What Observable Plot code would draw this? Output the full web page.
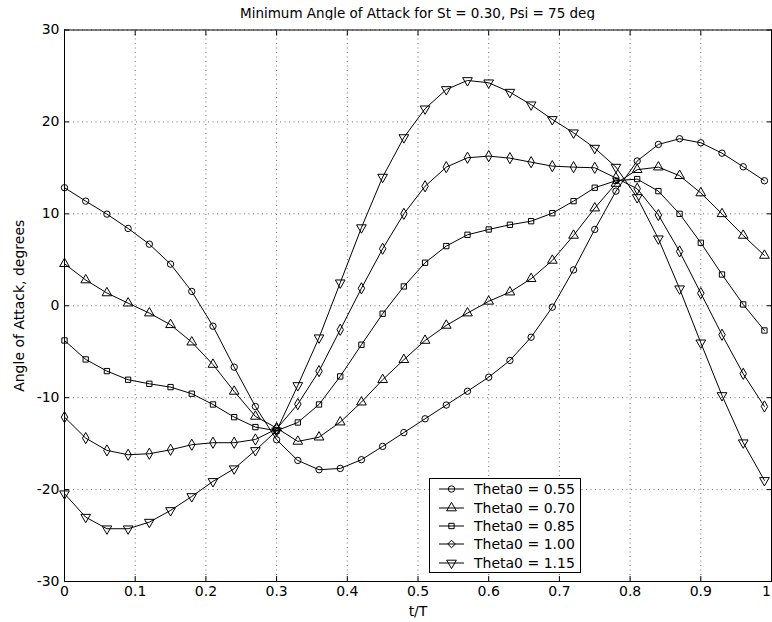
<!DOCTYPE html>
<html>
<head>
<meta charset="utf-8">
<script src="https://cdn.jsdelivr.net/npm/d3@7"></script>
<script src="https://cdn.jsdelivr.net/npm/@observablehq/plot@0.6"></script>
<style>
html, body { margin: 0; padding: 0; background: #fff; overflow: hidden; }
#wrap { position: relative; width: 772px; height: 622px; font-family: "DejaVu Sans", "Liberation Sans", Arial, sans-serif; color: #000; }
#title { position: absolute; left: 64px; width: 707px; top: 5px; line-height: 16px; text-align: center; font-size: 13.5px; }
#chart { position: absolute; left: 0; top: 20px; }
#legend { position: absolute; left: 429px; top: 478px; width: 150px; height: 92px; border: 1px solid #000; background: #fff; }
.row { display: flex; align-items: center; height: 18.4px; font-size: 14px; white-space: nowrap; }
.row svg { flex: none; }
</style>
</head>
<body>
<div id="wrap">
  <div id="title"></div>
  <div id="chart"></div>
  <div id="legend"></div>
</div>
<script>
const titleText = "Minimum Angle of Attack for St = 0.30, Psi = 75 deg";
const xLabel = "t/T";
const yLabel = "Angle of Attack, degrees";

const t = [0, 0.03, 0.06, 0.09, 0.12, 0.15, 0.18, 0.21, 0.24, 0.27, 0.30, 0.33, 0.36, 0.39, 0.42, 0.45, 0.48,
           0.51, 0.54, 0.57, 0.60, 0.63, 0.66, 0.69, 0.72, 0.75, 0.78, 0.81, 0.84, 0.87, 0.90, 0.93, 0.96, 0.99];

const theta055 = [12.84, 11.38, 9.97, 8.41, 6.70, 4.53, 1.56, -2.22, -6.68, -10.96, -14.58, -16.83, -17.84, -17.70,
                  -16.75, -15.30, -13.80, -12.30, -10.80, -9.30, -7.77, -5.95, -3.42, -0.15, 3.90, 8.30, 12.47,
                  15.75, 17.55, 18.17, 17.73, 16.60, 15.12, 13.60];
const theta070 = [4.57, 2.80, 1.39, 0.28, -0.80, -2.07, -3.96, -6.39, -9.32, -12.04, -13.30, -14.76, -14.30, -12.66,
                  -10.49, -8.05, -5.87, -3.78, -2.14, -0.80, 0.48, 1.48, 2.94, 4.93, 7.65, 10.62, 13.30,
                  14.80, 15.08, 14.15, 12.27, 10.00, 7.65, 5.47];
const theta085 = [-3.78, -5.84, -7.11, -8.05, -8.49, -8.85, -9.57, -10.74, -12.12, -13.20, -13.60, -12.70, -10.74, -7.69,
                  -4.24, -0.87, 2.10, 4.68, 6.49, 7.72, 8.30, 8.81, 9.20, 10.07, 11.38, 12.84, 13.60,
                  13.78, 12.47, 10.00, 6.85, 3.40, 0.14, -2.69];
const theta100 = [-12.12, -14.40, -15.74, -16.21, -16.10, -15.67, -15.12, -14.90, -14.90, -14.55, -13.40, -10.70, -7.11, -2.61,
                  1.90, 6.20, 10.00, 13.00, 15.08, 16.10, 16.28, 16.06, 15.62, 15.19, 15.08, 15.01, 13.90,
                  12.73, 9.87, 5.91, 1.37, -3.16, -7.40, -10.96];
const theta115 = [-20.45, -23.00, -24.26, -24.26, -23.54, -22.27, -20.75, -19.11, -17.73, -15.74, -13.60, -8.67, -3.48, 2.50,
                  8.50, 14.00, 18.30, 21.43, 23.53, 24.51, 24.26, 23.24, 21.87, 20.27, 18.82, 17.15, 15.08,
                  11.78, 7.29, 1.85, -4.03, -9.76, -14.90, -19.00];

const seriesNames = ["Theta0 = 0.55", "Theta0 = 0.70", "Theta0 = 0.85", "Theta0 = 1.00", "Theta0 = 1.15"];
const seriesValues = [theta055, theta070, theta085, theta100, theta115];

const xTicks = [0, 0.1, 0.2, 0.3, 0.4, 0.5, 0.6, 0.7, 0.8, 0.9, 1];
const xTickLabels = ["0", "0.1", "0.2", "0.3", "0.4", "0.5", "0.6", "0.7", "0.8", "0.9", "1"];
const yTicks = [-30, -20, -10, 0, 10, 20, 30];
const yTickLabels = ["-30", "-20", "-10", "0", "10", "20", "30"];

// inverted triangle symbol
const triangleDown = {
  draw(context, size) {
    const y = -Math.sqrt(size / (Math.sqrt(3) * 3));
    context.moveTo(0, -y * 2);
    context.lineTo(-Math.sqrt(3) * y, y);
    context.lineTo(Math.sqrt(3) * y, y);
    context.closePath();
  }
};
const symbols = [d3.symbolCircle, d3.symbolTriangle, d3.symbolSquare, d3.symbolDiamond2, triangleDown];
const plotSymbols = ["circle", "triangle", "square", "diamond", triangleDown];
const markerR = [3.2, 3.6, 3.0, 3.4, 3.6];

const rows = [];
seriesNames.forEach((name, s) => {
  t.forEach((tv, i) => rows.push({series: name, t: tv, v: seriesValues[s][i]}));
});

document.getElementById("title").textContent = titleText;

const font = '"DejaVu Sans", "Liberation Sans", Arial, sans-serif';
const dotted = {stroke: "#000", strokeOpacity: 0.55, strokeDasharray: "1,3.5", strokeWidth: 1};
const lastX = xTicks[xTicks.length - 1];

const marks = [
  Plot.gridX(xTicks, dotted),
  Plot.gridY(yTicks, dotted),
  Plot.frame({stroke: "#000", strokeWidth: 1}),
  Plot.axisX(xTicks, {anchor: "bottom", tickSize: -5, tickPadding: 10,
    tickFormat: d => (d === lastX ? "" : xTickLabels[xTicks.indexOf(d)]), label: xLabel, labelAnchor: "center",
    labelArrow: "none", labelOffset: 34, fontSize: 14}),
  Plot.axisX([lastX], {anchor: "bottom", tickSize: 0, tickPadding: 5, dx: -5,
    tickFormat: d => xTickLabels[xTicks.indexOf(d)], label: null, fontSize: 14}),
  Plot.axisX(xTicks, {anchor: "top", tickSize: -5, tickFormat: () => "", label: null}),
  Plot.axisY(yTicks, {anchor: "left", tickSize: -5, tickPadding: 10,
    tickFormat: d => yTickLabels[yTicks.indexOf(d)], label: yLabel, labelAnchor: "center",
    labelArrow: "none", labelOffset: 50, fontSize: 14}),
  Plot.axisY(yTicks, {anchor: "right", tickSize: -5, tickFormat: () => "", label: null}),
  Plot.line(rows, {x: "t", y: "v", z: "series", stroke: "#000", strokeWidth: 1})
];
seriesNames.forEach((name, s) => {
  marks.push(Plot.dot(rows.filter(d => d.series === name), {
    x: "t", y: "v", symbol: plotSymbols[s], r: markerR[s], stroke: "#000", fill: "none", strokeWidth: 1
  }));
});

const chart = Plot.plot({
  width: 772,
  height: 602,
  marginTop: 9.5,
  marginBottom: 41,
  marginLeft: 64,
  marginRight: 1,
  style: {fontFamily: font, fontSize: "14px", background: "#fff", color: "#000"},
  x: {domain: [0, 1]},
  y: {domain: [-30, 30]},
  marks
});
document.getElementById("chart").appendChild(chart);

// legend
const legend = document.getElementById("legend");
legend.style.paddingTop = "1px";
seriesNames.forEach((name, s) => {
  const row = document.createElement("div");
  row.className = "row";
  const svg = d3.create("svg").attr("width", 44).attr("height", 18);
  svg.append("line").attr("x1", 9).attr("x2", 34).attr("y1", 9).attr("y2", 9).attr("stroke", "#000");
  const size = Math.PI * markerR[s] * markerR[s];
  svg.append("path").attr("transform", "translate(21.5,9)")
    .attr("d", d3.symbol(symbols[s], size)())
    .attr("fill", "none").attr("stroke", "#000");
  row.appendChild(svg.node());
  const span = document.createElement("span");
  span.textContent = name;
  row.appendChild(span);
  legend.appendChild(row);
});
</script>
</body>
</html>
